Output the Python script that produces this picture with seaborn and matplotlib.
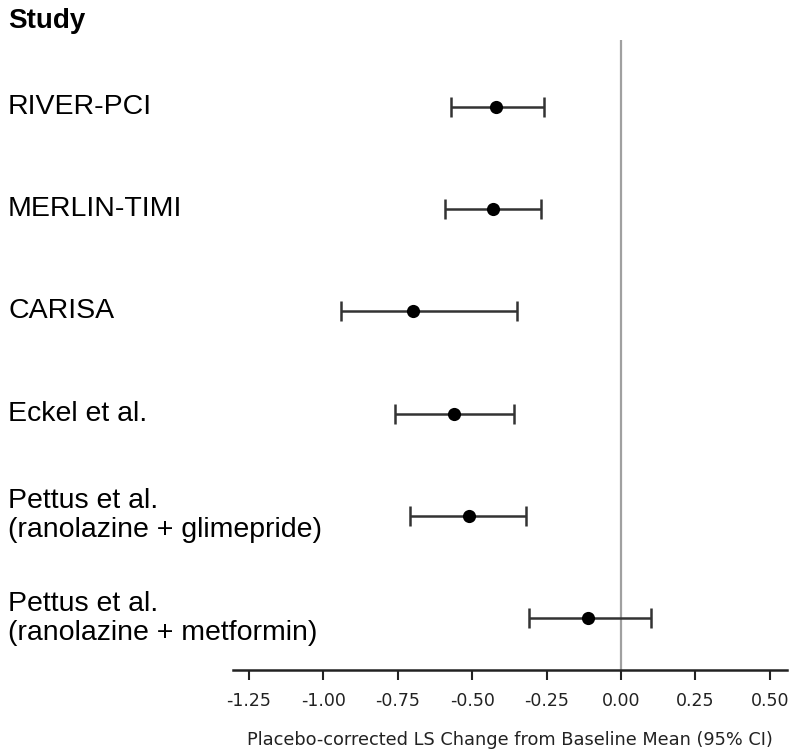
import matplotlib
matplotlib.use("Agg")
import matplotlib.pyplot as plt
import matplotlib.transforms as mtransforms
import seaborn as sns
import pandas as pd

studies = [
    "RIVER-PCI",
    "MERLIN-TIMI",
    "CARISA",
    "Eckel et al.",
    "Pettus et al.\n(ranolazine + glimepride)",
    "Pettus et al.\n(ranolazine + metformin)",
]
estimate = [-0.42, -0.43, -0.70, -0.56, -0.51, -0.11]
ci_low = [-0.57, -0.59, -0.94, -0.76, -0.71, -0.31]
ci_high = [-0.26, -0.27, -0.35, -0.36, -0.32, 0.10]
x_ticks = [-1.25, -1.00, -0.75, -0.50, -0.25, 0.00, 0.25, 0.50]

df = pd.DataFrame({
    "study": studies,
    "row": range(len(studies)),
    "est": estimate,
    "lo": ci_low,
    "hi": ci_high,
})

sns.set_style("white")
plt.rcParams["font.family"] = ["DejaVu Sans"]

fig = plt.figure(figsize=(8, 7.52), dpi=100)
ax = fig.add_axes([0.291, 0.109, 0.693, 0.838])

ax.axvline(0, color="#a0a0a0", lw=1.6, zorder=1)
ax.errorbar(
    df["est"], df["row"],
    xerr=[df["est"] - df["lo"], df["hi"] - df["est"]],
    fmt="none", ecolor="#333333", elinewidth=1.8, capsize=7, capthick=1.8, zorder=2,
)
sns.scatterplot(data=df, x="est", y="row", color="black", s=90, edgecolor="black",
                linewidth=0, ax=ax, zorder=3, legend=False)

ax.set_xlim(-1.304, 0.558)
ax.set_ylim(5.505, -0.652)
ax.set_xticks(x_ticks)
ax.set_xticklabels([f"{t:.2f}" for t in x_ticks], fontsize=12.5, color="#222222")
ax.set_yticks([])
ax.set_ylabel("")
ax.set_xlabel("Placebo-corrected LS Change from Baseline Mean (95% CI)",
              fontsize=12.8, color="#222222", labelpad=15)
ax.tick_params(axis="x", bottom=True, direction="out", length=7, width=1.5,
               color="#222222", pad=9)
for side in ["top", "left", "right"]:
    ax.spines[side].set_visible(False)
ax.spines["bottom"].set_linewidth(1.8)
ax.spines["bottom"].set_color("#222222")

trans = mtransforms.blended_transform_factory(fig.transFigure, ax.transData)
for _, r in df.iterrows():
    ax.text(0.01, r["row"], r["study"], transform=trans, ha="left", va="center",
            fontsize=20.5, family=["Liberation Sans", "DejaVu Sans"], linespacing=1.15,
            color="black")

fig.text(0.01, 0.972, "Study", ha="left", va="center", fontsize=20, fontweight="bold",
         family=["Liberation Sans", "DejaVu Sans"], color="black")

fig.savefig("out.png", dpi=100)
